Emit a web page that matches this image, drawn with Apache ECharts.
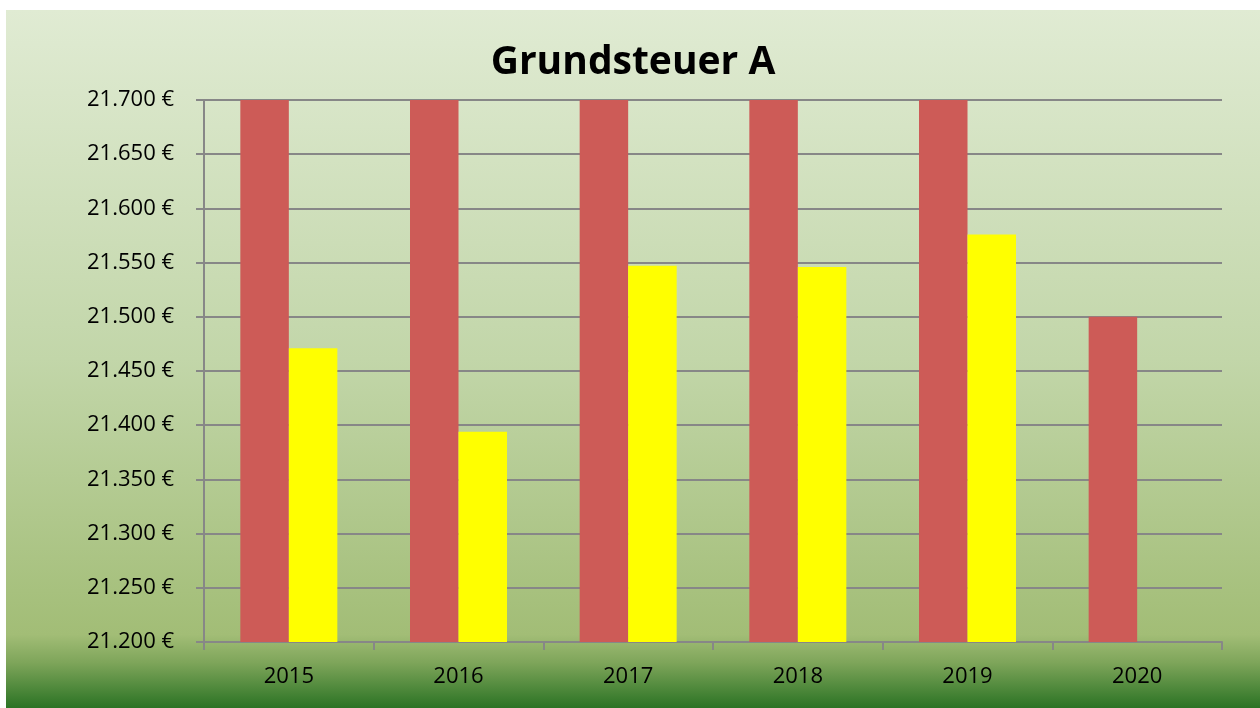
<!DOCTYPE html>
<html lang="de">
<head>
<meta charset="utf-8">
<script src="https://cdn.jsdelivr.net/npm/echarts@6/dist/echarts.min.js"></script>
<style>
  html, body { margin: 0; padding: 0; background: #fff; }
  #chart { position: absolute; left: 6px; top: 10px; width: 1254px; height: 698px; }
</style>
</head>
<body>
<div id="chart"></div>
<script>
  // Grundsteuer A per year (red bars run past the top of the axis)
  var years = ['2015', '2016', '2017', '2018', '2019', '2020'];
  var redValues = [21800, 21800, 21800, 21800, 21800, 21500];
  var yellowValues = [21471, 21394, 21547, 21546, 21576, null];

  var chart = echarts.init(document.getElementById('chart'));
  chart.setOption({
    backgroundColor: {
      type: 'linear', x: 0, y: 0, x2: 0, y2: 1,
      colorStops: [
        { offset: 0, color: '#e0ebd3' },
        { offset: 0.5, color: '#c2d6a9' },
        { offset: 0.895, color: '#a2bd76' },
        { offset: 0.935, color: '#7ea55a' },
        { offset: 1, color: '#2b7324' }
      ]
    },
    animation: false,
    title: {
      text: 'Grundsteuer A',
      left: 'center',
      top: 28,
      textStyle: { fontFamily: 'Open Sans', fontWeight: 'bold', fontSize: 39, color: '#000' }
    },
    grid: { left: 198, right: 38, top: 90, bottom: 66, containLabel: false },
    xAxis: {
      type: 'category',
      data: years,
      axisLine: { lineStyle: { color: '#878787', width: 2 } },
      axisTick: { show: true, length: 8, lineStyle: { color: '#878787', width: 2 } },
      axisLabel: { color: '#000', fontFamily: 'Open Sans', fontSize: 22, margin: 24 }
    },
    yAxis: {
      type: 'value',
      min: 21200,
      max: 21700,
      interval: 50,
      axisLine: { show: true, lineStyle: { color: '#878787', width: 2 } },
      axisTick: { show: true, length: 8, lineStyle: { color: '#878787', width: 2 } },
      splitLine: { lineStyle: { color: '#878787', width: 2 } },
      axisLabel: {
        color: '#000', fontFamily: 'Open Sans', fontSize: 22, margin: 30,
        formatter: function (v) {
          return String(v).replace(/(\d)(\d{3})$/, '$1.$2') + ' €';
        }
      }
    },
    series: [{
      type: 'bar',
      data: redValues,
      barWidth: 48.5,
      barGap: '0%',
      itemStyle: { color: '#cd5b57' }
    }, {
      type: 'bar',
      data: yellowValues,
      barWidth: 48.5,
      itemStyle: { color: '#ffff00' }
    }]
  });
</script>
</body>
</html>
